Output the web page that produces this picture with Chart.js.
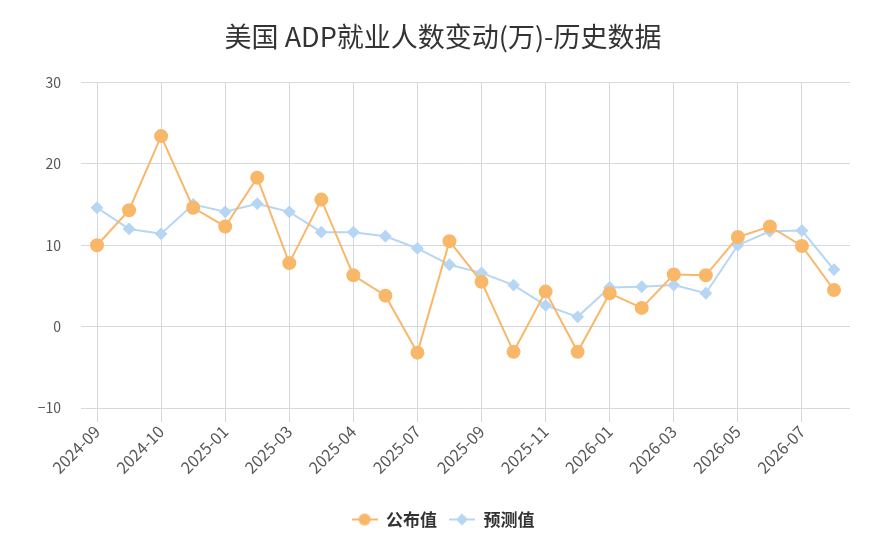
<!DOCTYPE html>
<html lang="zh-CN">
<head>
<meta charset="UTF-8">
<title>美国 ADP就业人数变动(万)-历史数据</title>
<script src="https://cdn.jsdelivr.net/npm/chart.js"></script>
<style>
  html, body { margin: 0; padding: 0; background: #fff; }
  #wrap { width: 879px; height: 554px; position: relative; }
</style>
</head>
<body>
<div id="wrap"><canvas id="grafico"></canvas></div>
<script>
// dados
const meses = [
  "2024-09", "2024-09", "2024-10", "2024-12", "2025-01", "2025-02",
  "2025-03", "2025-03", "2025-04", "2025-06", "2025-07", "2025-08",
  "2025-09", "2025-10", "2025-11", "2025-12", "2026-01", "2026-02",
  "2026-03", "2026-04", "2026-05", "2026-06", "2026-07", "2026-08"
];
const publicado = [10.0, 14.3, 23.4, 14.6, 12.3, 18.3, 7.8, 15.6, 6.3, 3.8, -3.2, 10.5,
                   5.5, -3.1, 4.3, -3.1, 4.1, 2.3, 6.4, 6.3, 11.0, 12.3, 9.9, 4.5];
const previsto = [14.6, 12.0, 11.4, 15.0, 14.1, 15.1, 14.1, 11.6, 11.6, 11.1, 9.6, 7.6,
                  6.6, 5.1, 2.6, 1.2, 4.8, 4.9, 5.1, 4.1, 10.0, 11.7, 11.8, 7.0];
const escalaY = { min: -10, max: 30, passo: 10 };

const corLaranja = "#f9b769";
const corAzul = "#b6d6f3";
const corGrade = "#d3d8e1";
const fonte = "'Noto Sans CJK SC', 'Noto Sans', sans-serif";

function iconeLegenda(cor, estilo) {
  const c = document.createElement("canvas");
  c.width = 26; c.height = 14;
  const g = c.getContext("2d");
  g.strokeStyle = cor; g.lineWidth = 2;
  g.beginPath(); g.moveTo(0, 7); g.lineTo(26, 7); g.stroke();
  g.fillStyle = cor;
  g.beginPath();
  if (estilo === "circle") {
    g.arc(13, 7, 6, 0, Math.PI * 2);
  } else {
    g.moveTo(13, 1); g.lineTo(19, 7); g.lineTo(13, 13); g.lineTo(7, 7); g.closePath();
  }
  g.fill();
  return c;
}

const ctx = document.getElementById("grafico").getContext("2d");
new Chart(ctx, {
  type: "line",
  data: {
    labels: meses,
    datasets: [
      {
        label: "公布值",
        data: publicado,
        borderColor: corLaranja,
        backgroundColor: corLaranja,
        borderWidth: 2,
        pointStyle: "circle",
        pointRadius: 6,
        pointHoverRadius: 7,
        tension: 0
      },
      {
        label: "预测值",
        data: previsto,
        borderColor: corAzul,
        backgroundColor: corAzul,
        borderWidth: 2,
        pointStyle: "rectRot",
        pointRadius: 5,
        pointHoverRadius: 6,
        tension: 0
      }
    ]
  },
  options: {
    responsive: true,
    maintainAspectRatio: false,
    animation: false,
    layout: { padding: { left: 36, right: 29, top: 0, bottom: 16 } },
    plugins: {
      title: {
        display: true,
        text: "美国 ADP就业人数变动(万)-历史数据",
        color: "#333",
        font: { family: fonte, size: 27, weight: "normal" },
        padding: { top: 21, bottom: 29 }
      },
      legend: {
        position: "bottom",
        labels: {
          usePointStyle: true,
          pointStyleWidth: 26,
          color: "#333",
          padding: 12,
          font: { family: fonte, size: 17, weight: "bold" },
          generateLabels: (chart) => chart.data.datasets.map((ds, i) => ({
            text: ds.label,
            fillStyle: ds.borderColor,
            strokeStyle: ds.borderColor,
            fontColor: "#333",
            pointStyle: iconeLegenda(ds.borderColor, ds.pointStyle),
            hidden: !chart.isDatasetVisible(i),
            datasetIndex: i
          }))
        }
      },
      tooltip: { mode: "index", intersect: false }
    },
    scales: {
      x: {
        offset: true,
        border: { display: false },
        grid: { offset: false, color: corGrade, tickLength: 14, tickColor: corGrade },
        afterFit: (escala) => { escala.height = 91; },
        ticks: {
          autoSkip: false,
          maxRotation: 45,
          minRotation: 45,
          padding: 0,
          color: "#555",
          font: { family: fonte, size: 16 },
          callback: function (valor, i) {
            return i % 2 === 0 ? this.getLabelForValue(valor) : null;
          }
        }
      },
      y: {
        min: escalaY.min,
        max: escalaY.max,
        border: { display: false },
        grid: { color: corGrade, drawTicks: false },
        afterFit: (escala) => { escala.width = 45; },
        ticks: {
          stepSize: escalaY.passo,
          padding: 20,
          color: "#555",
          font: { family: fonte, size: 14 },
          callback: (v) => String(v).replace("-", "−")
        }
      }
    }
  }
});
</script>
</body>
</html>
